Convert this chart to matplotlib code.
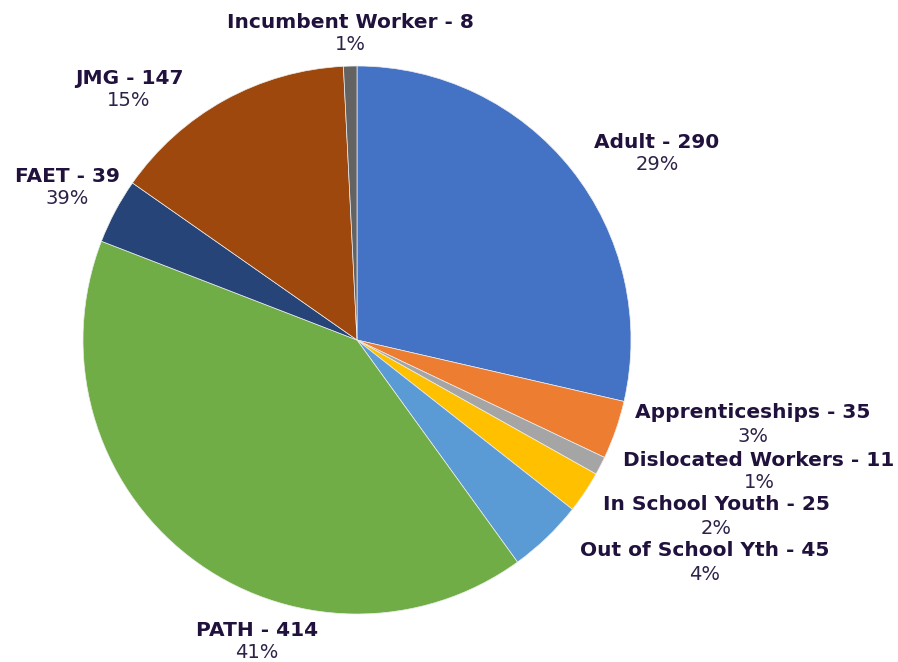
import matplotlib.pyplot as plt

# program enrollment counts (clockwise from 12 o'clock)
names = ['Adult', 'Apprenticeships', 'Dislocated Workers', 'In School Youth',
         'Out of School Yth', 'PATH', 'FAET', 'JMG', 'Incumbent Worker']
values = [290, 35, 11, 25, 45, 414, 39, 147, 8]
pct_labels = ['29%', '3%', '1%', '2%', '4%', '41%', '39%', '15%', '1%']
colors = ['#4472C4', '#ED7D31', '#A5A5A5', '#FFC000', '#5B9BD5',
          '#70AD47', '#264478', '#9E480E', '#636363']

# label centres in pixel coords of the 898x662 canvas (name line)
label_px = [(657, 142), (753, 413), (759, 460), (716, 505), (705, 551),
            (257, 630), (67, 176), (129, 78), (350, 22)]

W, H = 898, 662
cx, cy, r = 357, 340, 274
TXT = '#21113d'

fig = plt.figure(figsize=(W / 100, H / 100), dpi=100)
ax = fig.add_axes([(cx - r) / W, (H - cy - r) / H, 2 * r / W, 2 * r / H])
ax.pie(values, colors=colors, startangle=90, counterclock=False, radius=1,
       wedgeprops=dict(edgecolor='#eeeeee', linewidth=0.5))
ax.set_xlim(-1, 1)
ax.set_ylim(-1, 1)
ax.set_aspect('equal')
ax.axis('off')

for name, v, pct, (px, py) in zip(names, values, pct_labels, label_px):
    x = (px - cx) / r
    y = (cy - py) / r
    ax.text(x, y, f'{name} - {v}', ha='center', va='center', fontsize=14.5,
            fontweight='bold', color=TXT, family='DejaVu Sans',
            clip_on=False)
    ax.text(x, y - 23 / r, pct, ha='center', va='center', fontsize=14,
            fontweight='normal', color='#2e2248', family='DejaVu Sans',
            clip_on=False)

fig.savefig('out.png', dpi=100, facecolor='white')
